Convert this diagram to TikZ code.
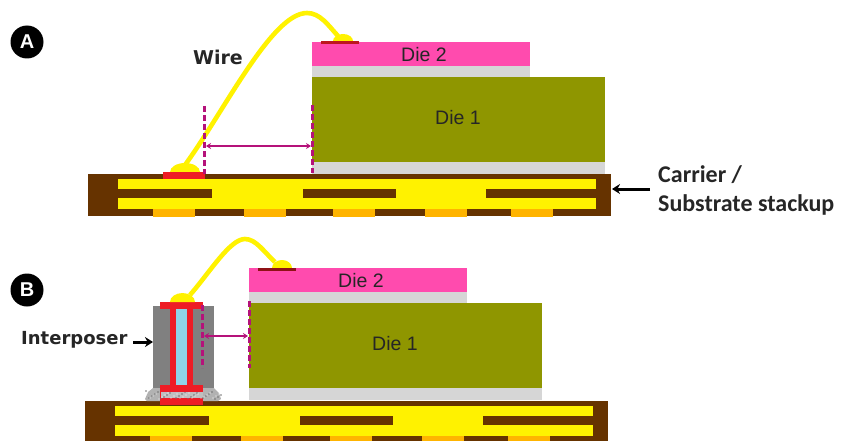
\documentclass[tikz,border=0pt]{standalone}
\usepackage{fontspec}
\usepackage{xcolor}
\setmainfont{Liberation Sans}
\newfontfamily\labelfont{Carlito}
\newfontfamily\wirefont{DejaVu Sans}
\definecolor{subbrown}{HTML}{663300}
\definecolor{dieolive}{HTML}{8F9600}
\definecolor{diepink}{HTML}{FF4BAE}
\definecolor{attachgray}{HTML}{D6D6D6}
\definecolor{padorange}{HTML}{FFB400}
\definecolor{padred}{HTML}{EE1C25}
\definecolor{gapmagenta}{HTML}{B5127A}
\definecolor{coreblue}{HTML}{8FD3E8}
\usetikzlibrary{arrows.meta}
\tikzset{
  wirestyle/.style={yellow, line width=4.6pt},
  gapline/.style={gapmagenta, line width=3pt, dash pattern=on 6pt off 3pt},
  gaparrow/.style={gapmagenta, line width=1.5pt, {Stealth[length=5pt,width=6pt]}-{Stealth[length=5pt,width=6pt]}},
  callout/.style={black, line width=3pt, -{Stealth[length=8pt,width=10pt]}},
  badge/.style={circle, fill=black, text=white, minimum size=33pt, inner sep=0pt, font=\bfseries\fontsize{20}{20}\selectfont},
  dietext/.style={font=\fontsize{19.5}{20}\selectfont, text=black!85},
  boldtext/.style={font=\labelfont\bfseries\fontsize{24}{26}\selectfont, text=black!85, anchor=west, inner sep=0pt}
}
\begin{document}
\begin{tikzpicture}[x=1pt, y=-1pt]
  \useasboundingbox (0,0) rectangle (842,441);
  % substrates
  \foreach \dx/\dy in {0/0,-3/227} {
    \begin{scope}[shift={(\dx,\dy)}]
      \fill[subbrown] (88,174) rectangle (611,216);
      \fill[yellow] (118,179) rectangle (596,209);
      \foreach \a/\b in {118/212,303/396,486/596} \fill[subbrown] (\a,189) rectangle (\b,198);
      \foreach \a in {153,244,333,425,511} \fill[padorange] (\a,209) rectangle (\a+42,217);
    \end{scope}
  }
  % die stacks
  \foreach \dx/\dy/\n in {0/0/a,-63/226/b} {
    \begin{scope}[shift={(\dx,\dy)}]
      \fill[attachgray] (312,162) rectangle (605,174);
      \fill[dieolive] (312,77) rectangle (605,162);
      \fill[attachgray] (312,66) rectangle (530,77);
      \fill[diepink] (312,42) rectangle (530,66);
      \node[dietext] (dietwo\n) at (424,55) {Die 2};
      \node[dietext] (dieone\n) at (458,118) {Die 1};
    \end{scope}
  }
  % interposer
  \fill[black!50] (153,306) rectangle (214,390);
  \fill[coreblue] (176,309) rectangle (187,386);
  \fill[padred] (170,305) rectangle (176,388);
  \fill[padred] (187,305) rectangle (193,388);
  \fill[padred] (160,302) rectangle (203,309);
  \fill[black!30] (145,399) -- (148,392) -- (153,388) -- (214,388) -- (219,393) -- (221,399) -- (218,401) -- (147,401) -- cycle;
  \fill[padred] (160,385) rectangle (203,405);
  \fill[black!25] (161,392) rectangle (203,398);
  \foreach \i in {0,...,25} {
    \fill[black!55] (146+\i*3,{391+mod(\i*7,9)}) circle (0.9pt);
    \fill[white] (147+\i*3,{393+mod(\i*5,7)}) circle (0.7pt);
  }
  \fill[padred] (160,385) rectangle (203,392);
  \fill[padred] (160,399) rectangle (203,405);
  % wires
  \coordinate (wirealow) at (185,165);
  \coordinate (wireahigh) at (338,36);
  \coordinate (wireblow) at (190,295);
  \coordinate (wirebhigh) at (275,262);
  \fill[yellow] (170,172) arc[start angle=180, end angle=0, x radius=15pt, y radius=9pt];
  \fill[yellow] (333,41) arc[start angle=180, end angle=0, x radius=10pt, y radius=7pt];
  \fill[yellow] (170,302) arc[start angle=180, end angle=0, x radius=12.5pt, y radius=9pt];
  \fill[yellow] (272,268) arc[start angle=180, end angle=0, x radius=10pt, y radius=8pt];
  \draw[wirestyle] (wirealow) .. controls (225,110) and (272,13) .. (307,13) .. controls (320,13) and (328,25) .. (wireahigh);
  \draw[wirestyle] (wireblow) .. controls (210,272) and (230,239) .. (245,239) .. controls (256,239) and (264,252) .. (wirebhigh);
  % pads
  \fill[padred] (163,172) rectangle (205,179);
  \fill[padred!80!black] (321,41.5) rectangle (359,44.5);
  \fill[padred!60!black] (258,268) rectangle (296,270.5);
  % gap marks
  \coordinate (gapaleft) at (204,106);
  \coordinate (gapaleftend) at (204,174);
  \coordinate (gaparight) at (312,105);
  \coordinate (gaparightend) at (312,173);
  \coordinate (gapbleft) at (202,305);
  \coordinate (gapbleftend) at (202,368);
  \coordinate (gapbright) at (249,301);
  \coordinate (gapbrightend) at (249,368);
  \draw[gapline] (gapaleft) -- (gapaleftend);
  \draw[gapline] (gaparight) -- (gaparightend);
  \draw[gapline] (gapbleft) -- (gapbleftend);
  \draw[gapline] (gapbright) -- (gapbrightend);
  \coordinate (arrowaleft) at (206,146);
  \coordinate (arrowaright) at (311,146);
  \coordinate (arrowbleft) at (204,336);
  \coordinate (arrowbright) at (248,336);
  \draw[gaparrow] (arrowaleft) -- (arrowaright);
  \draw[gaparrow] (arrowbleft) -- (arrowbright);
  % labels
  \node[badge] (bada) at (27,42) {A};
  \node[badge] (badb) at (27,290) {B};
  \node[font=\wirefont\bfseries\fontsize{19}{19}\selectfont, text=black!85] (wirelabel) at (218,57) {Wire};
  \node[font=\wirefont\bfseries\fontsize{18}{18}\selectfont, text=black!85, anchor=west, inner sep=0pt] (interlabel) at (21,340) {Interposer};
  \node[boldtext] (carrier) at (658,175) {Carrier /};
  \node[boldtext] (stackup) at (658,205) {Substrate stackup};
  \coordinate (carrierfrom) at (650,189);
  \coordinate (carrierto) at (612,189);
  \coordinate (interfrom) at (133,342);
  \coordinate (interto) at (153,342);
  \draw[callout] (carrierfrom) -- (carrierto);
  \draw[callout] (interfrom) -- (interto);
\end{tikzpicture}
\end{document}
